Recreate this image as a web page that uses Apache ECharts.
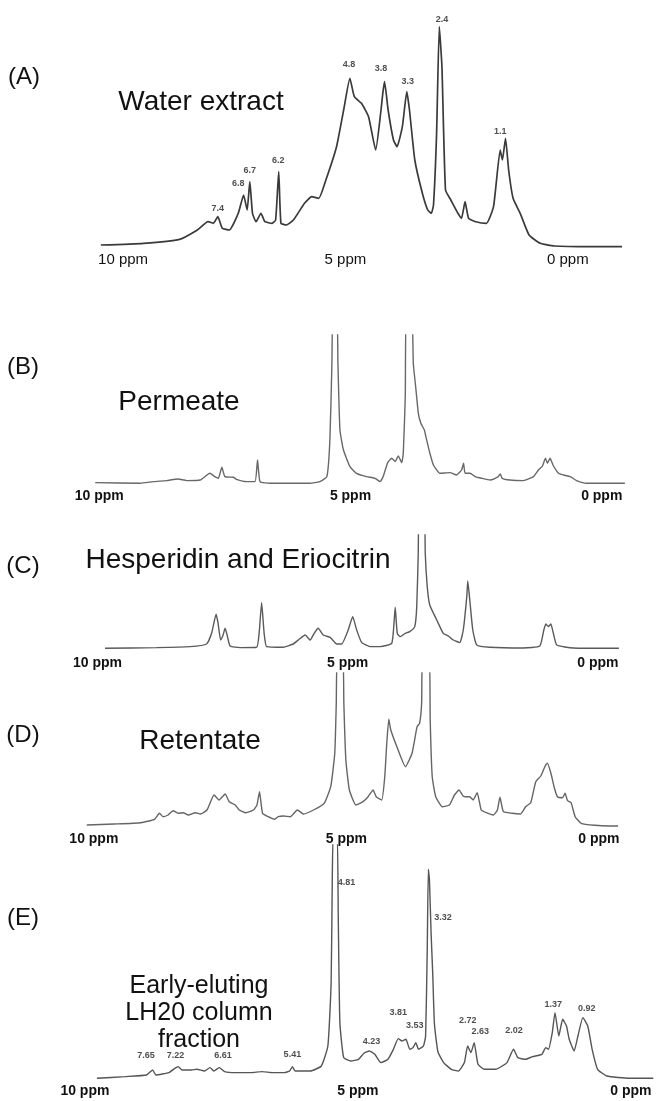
<!DOCTYPE html>
<html>
<head>
<meta charset="utf-8">
<script src="https://cdn.jsdelivr.net/npm/echarts@6/dist/echarts.min.js"></script>
<style>
  html, body { margin: 0; background: #fff; }
  #chart { width: 661px; height: 1101px; }
</style>
</head>
<body>
<div id="chart"></div>
<script>
// chemical shift (ppm) and relative intensity

// (A) water extract
const ppmA = [10.50, 9.54, 8.73, 8.33, 8.09, 7.97, 7.87, 7.77, 7.61, 7.41, 7.29, 7.21, 7.15, 7.09, 7.01, 6.90, 6.81, 6.65, 6.57, 6.50, 6.45, 6.33, 6.17, 5.92, 5.76, 5.60, 5.44, 5.20, 5.04, 4.90, 4.80, 4.64, 4.48, 4.32, 4.20, 4.16, 4.12, 4.04, 3.92, 3.84, 3.72, 3.62, 3.56, 3.44, 3.27, 3.15, 3.07, 3.02, 2.95, 2.89, 2.83, 2.75, 2.63, 2.47, 2.39, 2.31, 2.23, 2.07, 1.83, 1.67, 1.52, 1.47, 1.40, 1.33, 1.23, 1.07, 0.87, 0.62, 0.30, -0.50, -1.22];
const intA = [2, 3.7, 7.7, 17, 25.3, 23.7, 30.3, 18.7, 17, 33.7, 52, 37, 65.3, 33.7, 25.3, 33.7, 25.3, 23.7, 27, 75.3, 23.7, 22, 27, 43.7, 50.3, 48.7, 67, 100.3, 137, 168.7, 150.3, 143.7, 130.3, 97, 137, 153.7, 165.3, 137, 107, 100.3, 120.3, 155.3, 137, 87, 53.7, 37, 33.7, 42, 113.7, 220.3, 180.3, 57, 47, 33.7, 28.7, 45.3, 28.7, 25.3, 23.7, 40.3, 97, 87, 108.7, 77, 48.7, 33.7, 12, 3.7, 1, 0.3, 0.3];
const peakPpmA = [7.87, 7.41, 7.15, 6.51, 4.92, 4.20, 3.60, 2.83, 1.52];
const peakIntA = [38.7, 63.7, 76.3, 86, 182, 178.7, 165.3, 227.7, 115.3];
const peakTextA = ['7.4', '6.8', '6.7', '6.2', '4.8', '3.8', '3.3', '2.4', '1.1'];

// (B) permeate
const ppmB = [10.08, 9.19, 8.92, 8.66, 8.43, 8.26, 7.99, 7.80, 7.70, 7.63, 7.56, 7.50, 7.33, 7.27, 7.07, 6.90, 6.85, 6.80, 6.60, 6.20, 5.81, 5.61, 5.47, 5.41, 5.37, 5.35, 5.27, 5.25, 5.21, 5.14, 5.01, 4.88, 4.68, 4.51, 4.41, 4.35, 4.26, 4.18, 4.11, 4.05, 3.98, 3.95, 3.91, 3.89, 3.78, 3.75, 3.70, 3.65, 3.60, 3.53, 3.50, 3.42, 3.35, 3.22, 3.02, 2.89, 2.79, 2.75, 2.72, 2.62, 2.52, 2.39, 2.22, 2.06, 2.02, 1.98, 1.83, 1.56, 1.36, 1.26, 1.18, 1.12, 1.08, 1.03, 0.96, 0.86, 0.76, 0.63, 0.50, 0.30, -0.46];
const intB = [0.7, 0, 1.7, 2.7, 4.3, 2.7, 3.3, 10, 6.7, 5, 16, 6.7, 6, 4, 1.7, 1.7, 23.3, 1.7, 0, 0, 0, 1.7, 6.7, 43.3, 120, 173, 173, 120, 53.3, 33.3, 16.7, 10, 6.7, 5, 1.7, 6.7, 20.7, 25, 21.7, 27.3, 20.7, 30, 86.7, 173, 173, 120, 95, 70, 60, 53.3, 46.7, 30, 18.3, 10, 10.7, 8.3, 13.3, 20, 10, 10, 6.7, 5, 3.3, 6.7, 9.3, 5, 3.3, 2.7, 6.7, 13.3, 17.3, 25, 20, 25, 17.3, 10, 8.3, 6.7, 2.7, 0, 0];

// (C) hesperidin and eriocitrin
const ppmC = [9.85, 8.82, 8.15, 7.82, 7.72, 7.63, 7.59, 7.54, 7.49, 7.45, 7.41, 7.35, 7.15, 6.82, 6.77, 6.72, 6.67, 6.62, 6.29, 6.09, 5.97, 5.85, 5.75, 5.67, 5.59, 5.49, 5.35, 5.22, 5.12, 4.99, 4.90, 4.82, 4.72, 4.55, 4.35, 4.12, 4.07, 4.05, 4.01, 3.95, 3.85, 3.76, 3.66, 3.62, 3.59, 3.57, 3.47, 3.45, 3.41, 3.36, 3.22, 3.09, 2.99, 2.89, 2.76, 2.69, 2.62, 2.60, 2.56, 2.50, 2.42, 2.16, 1.49, 1.16, 1.08, 1.04, 0.99, 0.94, 0.89, 0.82, 0.49, -0.42];
const intC = [0, 0.7, 1.7, 4.3, 15, 34, 25, 8.3, 13.3, 20, 13.3, 2.3, 0.7, 1, 15, 45.7, 15, 1.7, 1, 4.3, 9, 13.3, 8.3, 15, 20, 13.3, 11, 4.3, 4.3, 18.3, 31.7, 18.3, 5.7, 1.7, 1.7, 5, 28.3, 41, 15, 11.7, 15, 16.7, 21.7, 41.7, 95, 148, 148, 95, 61.7, 43.3, 28.3, 15, 12.3, 8.3, 5.7, 18.3, 51.7, 67.3, 48.3, 18.3, 3.3, 1, 0.3, 2.3, 18.3, 24.3, 21.7, 24.3, 15, 3.3, 0.3, 0];

// (D) retentate
const ppmD = [10.14, 9.60, 9.07, 8.80, 8.70, 8.63, 8.53, 8.43, 8.33, 8.23, 8.13, 7.99, 7.89, 7.76, 7.62, 7.52, 7.40, 7.32, 7.20, 7.12, 6.99, 6.84, 6.77, 6.72, 6.66, 6.55, 6.42, 6.35, 6.25, 6.11, 5.97, 5.85, 5.65, 5.44, 5.31, 5.23, 5.20, 5.18, 5.07, 5.05, 5.01, 4.94, 4.81, 4.67, 4.57, 4.47, 4.41, 4.30, 4.24, 4.20, 4.16, 4.12, 4.00, 3.83, 3.70, 3.60, 3.55, 3.51, 3.49, 3.36, 3.34, 3.30, 3.23, 3.10, 2.96, 2.86, 2.77, 2.69, 2.63, 2.56, 2.49, 2.41, 2.33, 2.23, 2.09, 2.01, 1.96, 1.89, 1.72, 1.55, 1.45, 1.35, 1.25, 1.15, 1.07, 1.02, 0.95, 0.88, 0.82, 0.72, 0.67, 0.62, 0.55, 0.47, 0.35, 0.08, -0.19, -0.38];
const intD = [1, 2, 3.3, 6.7, 12.7, 9.3, 11, 15.3, 12.7, 13.3, 11, 13.3, 12, 16, 31, 26, 32, 24.3, 21, 16, 13.3, 16, 21, 34.3, 12.7, 9.3, 6.7, 9.3, 10, 9.3, 16, 12, 16, 22.7, 39.3, 72.7, 122.7, 170, 170, 122.7, 66, 36, 21, 24.3, 29.3, 36, 29.3, 26, 49.3, 82.7, 106.7, 96, 79.3, 59.3, 72.7, 99.3, 102.7, 122.7, 170, 170, 106, 49.3, 29.3, 19.3, 21, 31, 36, 30, 29.3, 29.3, 26, 33.3, 16, 13.3, 11, 16, 28.7, 14.3, 12.7, 12, 19.3, 23.3, 44.3, 50, 59.3, 62.7, 52.7, 37.7, 29.3, 28.3, 32.7, 25.3, 23.3, 9.3, 2.7, 0.7, 0, 0];

// (E) early-eluting LH20 fraction
const ppmE = [9.78, 9.27, 8.87, 8.76, 8.70, 8.46, 8.36, 8.29, 8.22, 8.05, 7.95, 7.81, 7.71, 7.64, 7.54, 7.44, 7.24, 6.96, 6.76, 6.56, 6.35, 6.25, 6.20, 6.15, 5.87, 5.67, 5.55, 5.49, 5.47, 5.45, 5.38, 5.36, 5.33, 5.26, 5.13, 4.99, 4.89, 4.79, 4.69, 4.58, 4.45, 4.35, 4.26, 4.19, 4.12, 4.05, 3.99, 3.94, 3.89, 3.80, 3.76, 3.73, 3.71, 3.69, 3.66, 3.63, 3.60, 3.56, 3.53, 3.43, 3.29, 3.16, 3.05, 2.99, 2.93, 2.87, 2.80, 2.68, 2.48, 2.27, 2.15, 2.07, 1.93, 1.80, 1.63, 1.56, 1.51, 1.44, 1.39, 1.32, 1.25, 1.18, 1.13, 1.04, 0.97, 0.88, 0.79, 0.71, 0.61, 0.44, 0.03, -0.41];
const intE = [0, 1.7, 3.3, 8.3, 3.3, 5.7, 9.7, 11.7, 8.3, 8.3, 9, 7.3, 10.7, 7.3, 10.7, 6.7, 5.7, 5.7, 6.7, 5.7, 5.7, 7.3, 11.7, 7.3, 7.3, 12.3, 32.3, 95.7, 195.7, 245, 245, 162.3, 55.7, 20.7, 17.3, 19, 25, 27.3, 24, 15.7, 19, 29, 39.7, 37.3, 39, 29, 30.7, 35.7, 29, 32.3, 42.3, 129, 209, 199, 145.7, 105.7, 55.7, 35.7, 25.7, 15.7, 9, 7.3, 15.7, 32.3, 25.7, 35.7, 14, 9, 9, 15.7, 29, 20.7, 19, 21.7, 24, 30.7, 29, 45.7, 65.7, 42.3, 59, 52.3, 39, 27.3, 42.3, 60.7, 52.3, 29, 9, 2.3, 0, 0];
const peakPpmE = [5.21, 3.44, 4.26, 3.96, 4.75, 6.20, 8.88, 8.34, 7.47, 2.99, 2.76, 2.14, 1.42, 0.81];
const peakIntE = [195.7, 160.7, 65.7, 52.3, 36.3, 24, 22.3, 22.3, 22.3, 57.3, 46.3, 47.3, 73.3, 69.7];
const peakTextE = ['4.81', '3.32', '3.81', '3.53', '4.23', '5.41', '7.65', '7.22', '6.61', '2.72', '2.63', '2.02', '1.37', '0.92'];

const panelTags = ['(A)', '(B)', '(C)', '(D)', '(E)'];
const panelNames = ['Water extract', 'Permeate', 'Hesperidin and Eriocitrin', 'Retentate', 'Early-eluting\nLH20 column\nfraction'];
const tickValues = [10, 5, 0];

const spectra = [[ppmA, intA], [ppmB, intB], [ppmC, intC], [ppmD, intD], [ppmE, intE]];
const peaks = [[peakPpmA, peakIntA, peakTextA], null, null, null, [peakPpmE, peakIntE, peakTextE]];

// where each panel sits on the page (px)
const frames = [
    { left: 96.4, width: 529.2, top: 17, base: 247, min: -1.3, max: 10.6, margin: 2.5, fs: 15, fw: 'normal', line: '#3a3a3a', lw: 1.7 },
    { left: 89.2, width: 542.7, top: 335, base: 483.3, min: -0.6, max: 10.2, margin: 3, fs: 14, fw: 'bold', line: '#686868', lw: 1.4 },
    { left: 92.5, width: 535.4, top: 535, base: 648.3, min: -0.6, max: 10.1, margin: 4.5, fs: 14, fw: 'bold', line: '#5a5a5a', lw: 1.4 },
    { left: 78.7, width: 550.5, top: 673, base: 826, min: -0.6, max: 10.3, margin: 3.5, fs: 14, fw: 'bold', line: '#656565', lw: 1.4 },
    { left: 84.9, width: 573.3, top: 845, base: 1078.3, min: -0.5, max: 10.0, margin: 3, fs: 14, fw: 'bold', line: '#555555', lw: 1.4 }
];
const tagPos = [[24, 77], [23, 367], [23, 566], [23, 735], [23, 918]];
const namePos = [[201, 102], [179, 402], [238, 560], [200, 741], [199, 1013]];

const font = 'Liberation Sans, Arial, Helvetica, sans-serif';

const chart = echarts.init(document.getElementById('chart'), null, { renderer: 'canvas' });

const grid = frames.map(f => ({
    left: f.left,
    top: f.top,
    width: f.width,
    height: f.base - f.top + 3,
    containLabel: false,
    outerBoundsMode: 'none'
}));

const xAxis = frames.map((f, i) => ({
    type: 'value',
    gridIndex: i,
    inverse: true,
    min: f.min,
    max: f.max,
    splitLine: { show: false },
    axisLine: { show: false, onZero: false },
    axisTick: { show: false },
    axisLabel: {
        customValues: tickValues,
        formatter: v => v + ' ppm',
        margin: f.margin,
        fontSize: f.fs,
        fontWeight: f.fw,
        fontFamily: font,
        color: '#111'
    }
}));

const yAxis = frames.map((f, i) => ({
    type: 'value',
    gridIndex: i,
    min: -3,
    max: f.base - f.top,
    show: false
}));

const series = [];
spectra.forEach(([ppm, inten], i) => {
    series.push({
        type: 'line',
        xAxisIndex: i,
        yAxisIndex: i,
        data: ppm.map((p, k) => [p, inten[k]]),
        showSymbol: false,
        smooth: 0.15,
        clip: true,
        silent: true,
        lineStyle: { color: frames[i].line, width: frames[i].lw }
    });
    if (peaks[i]) {
        const [pp, ph, pt] = peaks[i];
        series.push({
            type: 'scatter',
            xAxisIndex: i,
            yAxisIndex: i,
            clip: false,
            silent: true,
            symbolSize: 1,
            itemStyle: { color: 'rgba(0,0,0,0)' },
            data: pp.map((p, k) => [p, ph[k], pt[k]]),
            label: {
                show: true,
                position: 'inside',
                formatter: d => d.value[2],
                fontSize: 9,
                fontWeight: 'bold',
                fontFamily: font,
                color: '#222'
            }
        });
    }
});

const graphic = [];
panelTags.forEach((t, i) => {
    graphic.push({
        type: 'text',
        x: tagPos[i][0],
        y: tagPos[i][1],
        style: { text: t, fontSize: 24, fontFamily: font, fill: '#111', textAlign: 'center', textVerticalAlign: 'middle' }
    });
});
panelNames.forEach((t, i) => {
    graphic.push({
        type: 'text',
        x: namePos[i][0],
        y: namePos[i][1],
        style: {
            text: t,
            fontSize: i === 4 ? 25 : 28,
            lineHeight: 27,
            fontFamily: font,
            fill: '#111',
            textAlign: 'center',
            textVerticalAlign: 'middle'
        }
    });
});

chart.setOption({
    animation: false,
    backgroundColor: '#fff',
    grid,
    xAxis,
    yAxis,
    series,
    graphic
});
</script>
</body>
</html>
